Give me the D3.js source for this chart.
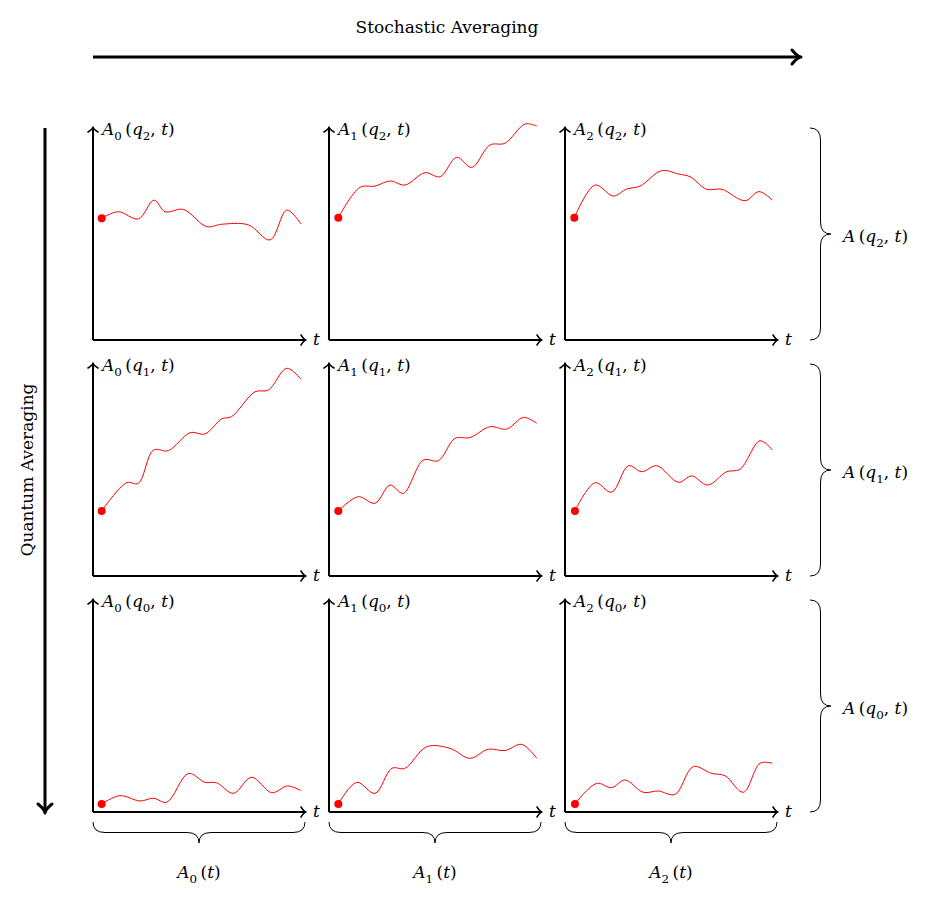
<!DOCTYPE html>
<html>
<head>
<meta charset="utf-8">
<script src="https://cdn.jsdelivr.net/npm/d3@7"></script>
<style>
  html, body { margin: 0; padding: 0; background: #fff; }
  svg text { font-family: "DejaVu Serif", "Liberation Serif", serif; fill: #000; }
</style>
</head>
<body>
<svg id="chart" width="933" height="902"></svg>
<script>
// sample paths, [t, value] with t and value on 0..10
var a0q2 = [[0.41, 5.74], [1.19, 6.05], [2.14, 5.71], [2.88, 6.60], [3.40, 6.05], [4.26, 6.16],
            [5.36, 5.35], [6.07, 5.46], [7.33, 5.43], [8.35, 4.72], [9.14, 6.13], [9.81, 5.47]],
    a1q2 = [[0.44, 5.77], [1.46, 7.20], [2.17, 7.26], [2.88, 7.50], [3.58, 7.31], [4.53, 7.89],
            [5.24, 7.70], [6.02, 8.62], [6.73, 8.14], [7.59, 9.20], [8.30, 9.28], [9.25, 10.19], [9.80, 10.09]],
    a2q2 = [[0.44, 5.77], [1.42, 7.31], [2.28, 6.79], [2.91, 7.12], [3.54, 7.26], [4.56, 7.99],
            [5.35, 7.83], [5.90, 7.70], [6.68, 7.11], [7.39, 7.11], [8.49, 6.57], [9.15, 7.00], [9.78, 6.60]],
    a0q1 = [[0.41, 3.07], [1.59, 4.40], [2.14, 4.37], [2.85, 5.94], [3.55, 5.91], [4.58, 6.76],
            [5.28, 6.70], [6.07, 7.41], [6.54, 7.52], [7.64, 8.69], [8.27, 8.77], [9.14, 9.80], [9.81, 9.28]],
    a1q1 = [[0.44, 3.07], [1.38, 3.74], [2.17, 3.43], [2.88, 4.29], [3.50, 3.90], [4.45, 5.47],
            [5.16, 5.44], [5.94, 6.49], [6.65, 6.53], [7.59, 7.04], [8.38, 6.93], [9.17, 7.48], [9.80, 7.20]],
    a2q1 = [[0.47, 3.07], [1.42, 4.40], [2.20, 3.95], [2.99, 5.20], [3.62, 4.92], [4.33, 5.20],
            [5.35, 4.42], [5.98, 4.72], [6.73, 4.29], [7.63, 4.92], [8.25, 5.03], [9.20, 6.38], [9.78, 5.94]],
    a0q0 = [[0.41, 0.38], [1.27, 0.77], [2.22, 0.52], [2.85, 0.65], [3.48, 0.46], [4.50, 1.82],
            [5.28, 1.40], [5.83, 1.38], [6.62, 0.88], [7.48, 1.64], [8.43, 0.91], [9.18, 1.23], [9.81, 1.01]],
    a1q0 = [[0.44, 0.38], [1.31, 1.40], [2.17, 0.88], [2.96, 2.06], [3.58, 2.06], [4.61, 3.08],
            [5.71, 3.00], [6.65, 2.53], [7.51, 2.96], [8.30, 2.90], [9.09, 3.19], [9.80, 2.53]],
    a2q0 = [[0.47, 0.38], [1.49, 1.35], [2.20, 1.15], [2.83, 1.51], [3.69, 0.93], [4.40, 0.99],
            [5.19, 0.83], [6.05, 2.14], [6.92, 1.82], [7.55, 1.71], [8.41, 0.93], [9.20, 2.30], [9.78, 2.30]],
    stochIdx = ["0", "1", "2"],
    quantIdx = ["2", "1", "0"],
    grid = [[a0q2, a1q2, a2q2], [a0q1, a1q1, a2q1], [a0q0, a1q0, a2q0]];

(function () {
    "use strict";
    var svg = d3.select('#chart'),
        SIZE = 212,
        STEP = 236,
        LEFT = 93,
        TOP = 128,
        FONT = 17,
        x = d3.scaleLinear().domain([0, 10]).range([0, SIZE]),
        y = d3.scaleLinear().domain([0, 10]).range([SIZE, 0]),
        line = d3.line()
            .x(function (d) { return x(d[0]); })
            .y(function (d) { return y(d[1]); })
            .curve(d3.curveCatmullRom.alpha(0.5)),

        /**
         * Write a little math label: parts are [text, kind] with kind
         * 'i' for italic, 's' for subscript, '' for upright.
         */
        mathText = function (sel, parts, size) {
            var shift = 0;
            parts.forEach(function (p) {
                var ts = sel.append('tspan').text(p[0]),
                    want = p[1] === 's' ? size * 0.3 : 0;
                if (p[1] === 'i') {
                    ts.style('font-style', 'italic');
                }
                if (p[1] === 's') {
                    ts.attr('font-size', size * 0.7);
                }
                if (want !== shift) {
                    ts.attr('dy', want - shift);
                    shift = want;
                }
            });
            return sel;
        },

        // open chevron arrowhead at (tx, ty) pointing along angle
        arrowHead = function (g, tx, ty, angle, len, spread, width) {
            var a = angle * Math.PI / 180,
                bx = Math.cos(a), by = Math.sin(a),
                px = -by, py = bx;
            g.append('path')
                .attr('d', 'M' + (tx - bx * len + px * spread) + ',' + (ty - by * len + py * spread) +
                    ' Q' + (tx - bx * len * 0.35) + ',' + (ty - by * len * 0.35) + ' ' + tx + ',' + ty +
                    ' Q' + (tx - bx * len * 0.35) + ',' + (ty - by * len * 0.35) + ' ' +
                    (tx - bx * len - px * spread) + ',' + (ty - by * len - py * spread))
                .attr('fill', 'none')
                .attr('stroke', '#000')
                .attr('stroke-width', width)
                .attr('stroke-linecap', 'round')
                .attr('stroke-linejoin', 'round');
        },

        // curly brace along a vertical (dir 'v') or horizontal (dir 'h') span
        brace = function (g, a, b, base, depth, dir) {
            var m = (a + b) / 2, q = depth / 2, r = 12, p;
            if (dir === 'v') {
                p = 'M' + base + ',' + a +
                    ' Q' + (base + q) + ',' + a + ' ' + (base + q) + ',' + (a + r) +
                    ' L' + (base + q) + ',' + (m - r) +
                    ' Q' + (base + q) + ',' + m + ' ' + (base + depth) + ',' + m +
                    ' Q' + (base + q) + ',' + m + ' ' + (base + q) + ',' + (m + r) +
                    ' L' + (base + q) + ',' + (b - r) +
                    ' Q' + (base + q) + ',' + b + ' ' + base + ',' + b;
            } else {
                p = 'M' + a + ',' + base +
                    ' Q' + a + ',' + (base + q) + ' ' + (a + r) + ',' + (base + q) +
                    ' L' + (m - r) + ',' + (base + q) +
                    ' Q' + m + ',' + (base + q) + ' ' + m + ',' + (base + depth) +
                    ' Q' + m + ',' + (base + q) + ' ' + (m + r) + ',' + (base + q) +
                    ' L' + (b - r) + ',' + (base + q) +
                    ' Q' + b + ',' + (base + q) + ' ' + b + ',' + base;
            }
            g.append('path').attr('d', p)
                .attr('fill', 'none').attr('stroke', '#000').attr('stroke-width', 1);
        };

    // stochastic averaging arrow on top
    svg.append('text').attr('x', 447).attr('y', 33)
        .attr('text-anchor', 'middle').attr('font-size', FONT)
        .text('Stochastic Averaging');
    svg.append('line').attr('x1', LEFT).attr('y1', 57).attr('x2', 800).attr('y2', 57)
        .attr('stroke', '#000').attr('stroke-width', 3);
    arrowHead(svg, 801, 57, 0, 9, 7, 3);

    // quantum averaging arrow on the left
    svg.append('text')
        .attr('transform', 'translate(33,470) rotate(-90)')
        .attr('text-anchor', 'middle').attr('font-size', FONT)
        .text('Quantum Averaging');
    svg.append('line').attr('x1', 45).attr('y1', TOP).attr('x2', 45).attr('y2', 812)
        .attr('stroke', '#000').attr('stroke-width', 3);
    arrowHead(svg, 45, 813, 90, 9, 7, 3);

    grid.forEach(function (row, i) {
        row.forEach(function (data, j) {
            var g = svg.append('g')
                .attr('transform', 'translate(' + (LEFT + j * STEP) + ',' + (TOP + i * STEP) + ')');

            g.append('line').attr('x1', x(0)).attr('y1', y(0)).attr('x2', x(10)).attr('y2', y(0))
                .attr('stroke', '#000').attr('stroke-width', 2);
            g.append('line').attr('x1', x(0)).attr('y1', y(0)).attr('x2', x(0)).attr('y2', y(10))
                .attr('stroke', '#000').attr('stroke-width', 2);
            arrowHead(g, x(10) + 1, y(0), 0, 5, 5, 1.6);
            arrowHead(g, x(0), y(10) - 1, -90, 5, 5, 1.6);

            mathText(g.append('text').attr('x', x(0) + 9).attr('y', y(10) + 7).attr('font-size', FONT),
                [['A', 'i'], [stochIdx[j], 's'], ['\u2009(', ''], ['q', 'i'], [quantIdx[i], 's'],
                 [', ', ''], ['t', 'i'], [')', '']], FONT);
            mathText(g.append('text').attr('x', x(10) + 8).attr('y', y(0) + 5).attr('font-size', FONT),
                [['t', 'i']], FONT);

            g.append('path').datum(data)
                .attr('d', line)
                .attr('fill', 'none')
                .attr('stroke', '#ff0000')
                .attr('stroke-width', 1);
            g.append('circle')
                .attr('cx', x(data[0][0])).attr('cy', y(data[0][1])).attr('r', 4)
                .attr('fill', '#ff0000');
        });

        // brace and label on the right of each row
        var top = TOP + i * STEP;
        brace(svg, top, top + SIZE, 810, 21, 'v');
        mathText(svg.append('text').attr('x', 843).attr('y', top + SIZE / 2 + 8).attr('font-size', FONT),
            [['A', 'i'], ['\u2009(', ''], ['q', 'i'], [quantIdx[i], 's'], [', ', ''], ['t', 'i'], [')', '']], FONT);
    });

    // braces and labels under each column
    stochIdx.forEach(function (s, j) {
        var left = LEFT + j * STEP;
        brace(svg, left, left + SIZE, 822, 21, 'h');
        mathText(svg.append('text').attr('x', left + SIZE / 2).attr('y', 878)
            .attr('text-anchor', 'middle').attr('font-size', FONT),
            [['A', 'i'], [s, 's'], ['\u2009(', ''], ['t', 'i'], [')', '']], FONT);
    });
}());
</script>
</body>
</html>
